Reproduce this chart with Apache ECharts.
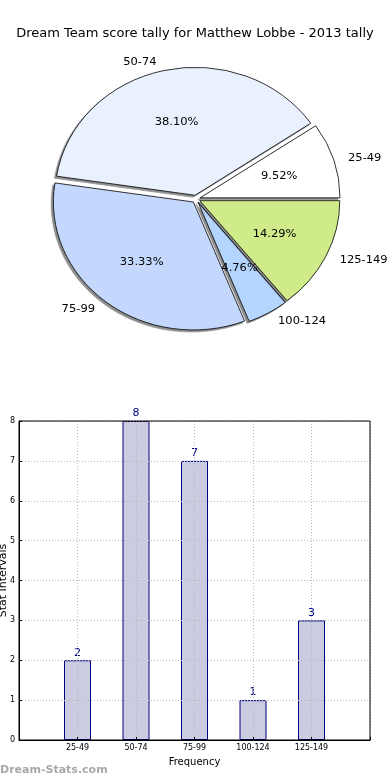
<!DOCTYPE html>
<html><head><meta charset="utf-8">
<script src="https://cdn.jsdelivr.net/npm/echarts@6/dist/echarts.min.js"></script>
<style>
html,body{margin:0;padding:0;background:#fff}
#wrap{position:relative;width:390px;height:780px;overflow:hidden}
#c{position:absolute;left:0;top:0;width:390px;height:780px}
#p{position:absolute;left:0;top:0;width:390px;height:400px;transform-origin:196px 199px;transform:scale(1.045,0.955)}
</style>
</head><body><div id="wrap"><div id="c"></div><div id="p"></div></div>
<script>
const titleText = 'Dream Team score tally for Matthew Lobbe - 2013 tally';
const categories = ['25-49', '50-74', '75-99', '100-124', '125-149'];
const counts = [2, 8, 7, 1, 3];
const percentLabels = ['9.52%', '38.10%', '33.33%', '4.76%', '14.29%'];
const sliceColors = ['#ffffff', '#eaf1fe', '#c4d8fe', '#b4d5fe', '#d0eb8a'];
const yTicks = [0, 1, 2, 3, 4, 5, 6, 7, 8];

const FONT = 'DejaVu Sans';
const chart = echarts.init(document.getElementById('c'), null, {renderer: 'canvas'});
const pie = echarts.init(document.getElementById('p'), null, {renderer: 'svg'});
const R = 134;
const pieData = categories.map((c, i) => ({
  name: c, value: counts[i], selected: true,
  itemStyle: {color: sliceColors[i]}
}));
const pctData = categories.map((c, i) => ({name: percentLabels[i], value: counts[i]}));

chart.setOption({
  animation: false,
  backgroundColor: '#fff',
  title: {
    text: titleText, left: 'center', top: 22,
    textStyle: {fontFamily: FONT, fontSize: 13, fontWeight: 'normal', color: '#000'}
  },
  graphic: [{
    type: 'text', left: 0, top: 765,
    style: {text: 'Dream-Stats.com', fontFamily: FONT, fontSize: 11, fontWeight: 'bold', fill: '#a8a8a8'}
  }],
  grid: {left: 19, right: 20, top: 421, bottom: 40, show: true, borderColor: '#000', borderWidth: 1, z: 5,
    outerBoundsMode: 'none', containLabel: false},
  xAxis: {
    type: 'category', boundaryGap: false, z: 4,
    data: [''].concat(categories, ['']),
    name: 'Frequency', nameLocation: 'middle', nameGap: 17, nameMoveOverlap: false,
    nameTextStyle: {fontFamily: FONT, fontSize: 10, color: '#000'},
    axisLine: {lineStyle: {color: '#000'}},
    axisTick: {inside: true, length: 3, lineStyle: {color: '#000'}},
    axisLabel: {fontFamily: FONT, fontSize: 8, color: '#000', margin: 4},
    splitLine: {show: true, lineStyle: {color: '#b8b8b8', type: [1, 2], width: 1}}
  },
  yAxis: {
    type: 'value', min: 0, max: 8, interval: 1, z: 4,
    name: 'Stat Intervals', nameLocation: 'middle', nameGap: 10, nameRotate: 90, nameMoveOverlap: false,
    nameTextStyle: {fontFamily: FONT, fontSize: 11, color: '#000'},
    axisLine: {show: true, lineStyle: {color: '#000'}},
    axisTick: {show: true, inside: true, length: 3, lineStyle: {color: '#000'}},
    axisLabel: {fontFamily: FONT, fontSize: 8, color: '#000', margin: 4,
      formatter: v => yTicks.indexOf(v) >= 0 ? String(v) : ''},
    splitLine: {show: true, lineStyle: {color: '#b8b8b8', type: [1, 2], width: 1}}
  },
  series: [
    {
      type: 'bar', z: 2, barWidth: 27,
      data: ['-'].concat(counts, ['-']),
      itemStyle: {color: '#cbcbe2', borderColor: '#000080', borderWidth: 1},
      label: {show: true, position: 'top', distance: 2, color: '#000080', fontFamily: FONT, fontSize: 11}
    }
  ]
});

pie.setOption({
  animation: false,
  series: [
    {
      type: 'pie', center: [196, 199], radius: R,
      startAngle: 0, clockwise: false,
      selectedMode: 'multiple', selectedOffset: 4,
      data: pieData,
      itemStyle: {borderColor: '#000', borderWidth: 0.8,
        shadowColor: 'rgba(0,0,0,0.45)', shadowOffsetX: -2, shadowOffsetY: 2, shadowBlur: 0},
      label: {show: true, position: 'outside', fontFamily: FONT, fontSize: 11, color: '#000', alignTo: 'none'},
      labelLine: {show: false, length: 9, length2: 0},
      emphasis: {disabled: true},
      silent: true
    },
    {
      type: 'pie', center: [196, 199], radius: [R * 0.3, R * 0.9],
      startAngle: 0, clockwise: false,
      data: pctData,
      itemStyle: {color: 'rgba(0,0,0,0)', borderWidth: 0},
      label: {show: true, position: 'inside', fontFamily: FONT, fontSize: 11, color: '#000', formatter: '{b}'},
      labelLine: {show: false},
      emphasis: {disabled: true},
      silent: true
    }
  ]
});
</script></body></html>
